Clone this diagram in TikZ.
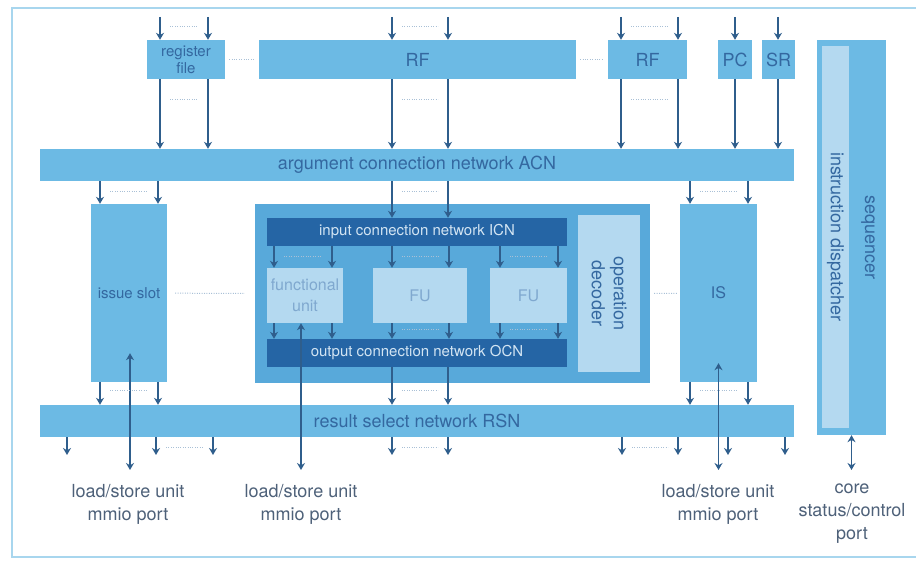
\documentclass[tikz,border=0pt]{standalone}
\usepackage{fontspec}
\setmainfont{TeX Gyre Heros}
\usepackage{xcolor}
\definecolor{ttaCadre}{HTML}{A8D6EE}
\definecolor{ttaCiel}{HTML}{6CBAE4}
\definecolor{ttaCoeur}{HTML}{58A9DA}
\definecolor{ttaNuit}{HTML}{2565A5}
\definecolor{ttaPale}{HTML}{B4D9F0}
\definecolor{ttaEncre}{HTML}{3468A0}
\definecolor{ttaFleche}{HTML}{2F5E8C}
\definecolor{ttaPoint}{HTML}{A9C0D6}
\definecolor{ttaGris}{HTML}{4E6179}
\definecolor{ttaBrume}{HTML}{D3E5F3}
\definecolor{ttaLavis}{HTML}{7FA8CF}
\usetikzlibrary{arrows.meta}
\tikzset{
  %% ── Boxes ────────────────────────────────────────────────────────────
  %% One sky blue for the machine, a deeper one for the core, dark bars for
  %% the two internal networks and pale panels for what they serve.
  bloc/.style       = {fill=ttaCiel, text=ttaEncre, align=center, inner sep=0pt,
                       font=\fontsize{18}{22}\selectfont},
  blocCoeur/.style  = {bloc, fill=ttaCoeur},
  blocReseau/.style = {bloc, fill=ttaNuit, text=ttaBrume,
                       font=\fontsize{15}{18}\selectfont},
  blocPale/.style   = {bloc, fill=ttaPale},
  blocUnite/.style  = {blocPale, text=ttaLavis, font=\fontsize{16}{21}\selectfont},
  %%
  %% ── Arrows ───────────────────────────────────────────────────────────
  fleche/.style       = {-{Stealth[length=7pt, width=8pt]}, draw=ttaFleche,
                         line width=1.6pt},
  flecheDouble/.style = {{Stealth[length=7pt, width=8pt]}-{Stealth[length=7pt, width=8pt]},
                         draw=ttaFleche, line width=1.6pt},
  pointilles/.style   = {draw=ttaPoint, line width=1pt, dash pattern=on 1pt off 1.4pt},
  %%
  %% ── Text ─────────────────────────────────────────────────────────────
  etiquette/.style  = {text=ttaGris, align=center, inner sep=0pt, anchor=north,
                       font=\fontsize{18}{23}\selectfont,
                       execute at begin node=\strut},
}

\begin{document}
\begin{tikzpicture}[x=1pt, y=-1pt]
\useasboundingbox (0,0) rectangle (916,561);
\draw[ttaCadre, line width=2.5pt] (916,8) -- (12,8) -- (12,557) -- (916,557);

%% register files and special registers
\node[bloc, minimum width=78, minimum height=39, font=\fontsize{15}{17}\selectfont]
     (rfile) at (186,59.5) {register\\file};
\node[bloc, minimum width=317, minimum height=39] (rf)  at (417.5,59.5) {RF};
\node[bloc, minimum width=79, minimum height=39]  (rfb) at (647.5,59.5) {RF};
\node[bloc, minimum width=34, minimum height=39]  (pc)  at (735,59.5)   {PC};
\node[bloc, minimum width=33, minimum height=39]  (sr)  at (778.5,59.5) {SR};

%% networks
\node[bloc, minimum width=754, minimum height=32] (acn) at (417,165)
     {argument connection network ACN};
\node[bloc, minimum width=754, minimum height=32] (rsn) at (417,421)
     {result select network RSN};

%% issue slots
\node[bloc, minimum width=76, minimum height=178, font=\fontsize{15}{18}\selectfont]
     (islot) at (129,293) {issue slot};
\node[bloc, minimum width=77, minimum height=178, font=\fontsize{16}{18}\selectfont]
     (is) at (718.5,293) {IS};

%% core of one issue slot
\node[blocCoeur, minimum width=395, minimum height=179] (coeur) at (452.5,293.5) {};
\node[blocReseau, minimum width=300, minimum height=28] (icn) at (417,232)
     {input connection network ICN};
\node[blocReseau, minimum width=300, minimum height=28] (ocn) at (417,353)
     {output connection network OCN};
\node[blocPale, rotate=-90, minimum width=157, minimum height=62] (opdec) at (609,293.5)
     {operation\\decoder};
\node[blocUnite, minimum width=76, minimum height=55] (fu)  at (305,295.5)   {functional\\unit};
\node[blocUnite, minimum width=94, minimum height=55] (fub) at (420,295.5)   {FU};
\node[blocUnite, minimum width=77, minimum height=55] (fuc) at (528.5,295.5) {FU};

%% sequencer
\node[bloc, minimum width=69, minimum height=395] (seq) at (851.5,237.5) {};
\node[blocPale, rotate=-90, minimum width=382, minimum height=27] (disp) at (835.5,237)
     {instruction dispatcher};
\node[bloc, fill=none, rotate=-90] (seqtxt) at (868,0 |- seq.center) {sequencer};

%% ports
\node[etiquette] (lsua)  at (128,484) {load/store unit\\mmio port};
\node[etiquette] (lsub)  at (301,484) {load/store unit\\mmio port};
\node[etiquette] (lsuc)  at (718,484) {load/store unit\\mmio port};
\node[etiquette] (cport) at (852,484) {core\\status/control\\port};

\coordinate (entree) at (0,17);
\coordinate (sortie) at (0,455);
\coordinate (port)   at (0,470);

%% buses
\foreach \x/\n in {160/rfile, 208/rfile, 392/rf, 448/rf, 621/rfb, 678/rfb, 735/pc, 778/sr}{
  \draw[fleche] (\x,0 |- entree) -- (\x,0 |- \n.north);
  \draw[fleche] (\x,0 |- \n.south) -- (\x,0 |- acn.north);
}
\foreach \x/\n in {100/islot, 158/islot, 392/icn, 448/icn, 690/is, 748/is}
  \draw[fleche] (\x,0 |- acn.south) -- (\x,0 |- \n.north);
\foreach \x/\n in {274/fu, 332/fu, 392/fub, 449/fub, 500/fuc, 558/fuc}{
  \draw[fleche] (\x,0 |- icn.south) -- (\x,0 |- \n.north);
  \draw[fleche] (\x,0 |- \n.south) -- (\x,0 |- ocn.north);
}
\foreach \x/\n in {100/islot, 158/islot, 392/ocn, 448/ocn, 690/is, 748/is}
  \draw[fleche] (\x,0 |- \n.south) -- (\x,0 |- rsn.north);
\foreach \x in {67, 156, 213, 392, 448, 622, 678, 728, 785}
  \draw[fleche] (\x,0 |- rsn.south) -- (\x,0 |- sortie);

\draw[flecheDouble] ([xshift=1pt, yshift=29pt]islot.south) -- (130,0 |- port);
\draw[flecheDouble] (301,0 |- fu.south) -- (301,0 |- port);
\draw[flecheDouble] ([yshift=19pt]is.south) -- (is.south |- port);
\draw[flecheDouble] (seq.south) -- (seq.south |- port);

%% elided lanes
\foreach \xa/\xb/\y in {160/208/27, 392/448/27, 621/678/27, 160/208/100, 392/448/100,
    621/678/100, 100/158/192, 392/448/192, 690/748/192, 274/332/257, 392/449/257,
    500/558/257, 392/449/330, 500/558/330, 100/158/390, 392/448/390, 690/748/390,
    156/213/447, 392/448/447, 622/678/447}
  \draw[pointilles] (\xa+10,\y) -- (\xb-10,\y);
\draw[pointilles, shorten <=4pt, shorten >=4pt] (rfile) -- (rf);
\draw[pointilles, shorten <=4pt, shorten >=4pt] (rf) -- (rfb);
\draw[pointilles, shorten <=8pt, shorten >=10pt] (islot) -- (coeur.west);
\draw[pointilles, shorten <=4pt, shorten >=3pt] (coeur.east) -- (is);

\end{tikzpicture}
\end{document}
